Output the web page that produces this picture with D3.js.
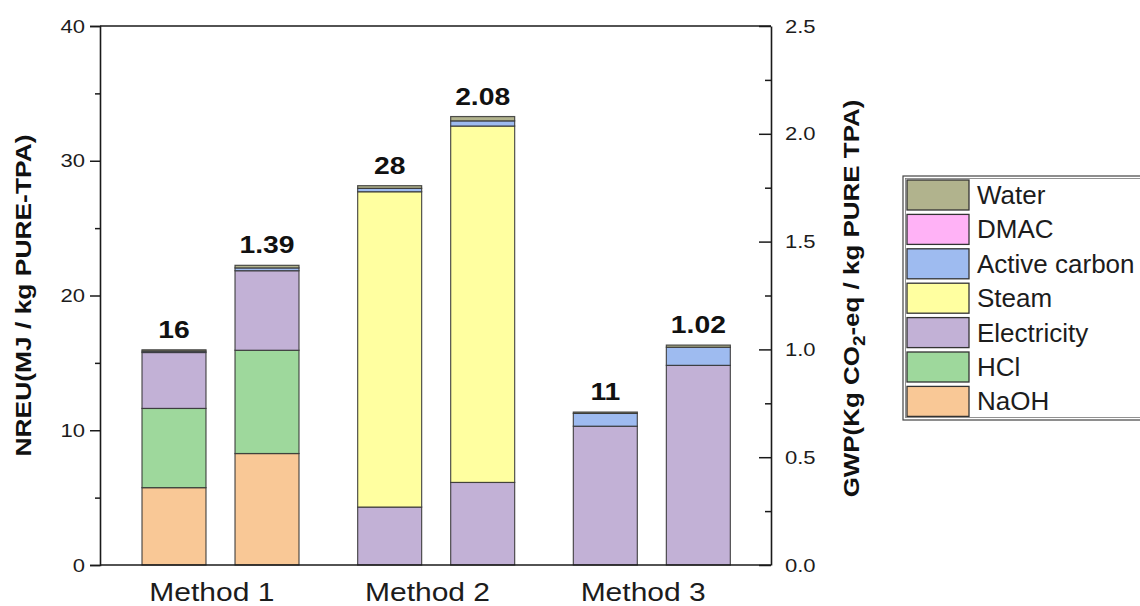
<!DOCTYPE html>
<html>
<head>
<meta charset="utf-8">
<script src="https://cdn.jsdelivr.net/npm/d3@7"></script>
<style>
  html, body { margin: 0; padding: 0; background: #fff; }
  svg { display: block; font-family: "Liberation Sans", Arial, sans-serif; }
</style>
</head>
<body>
<svg id="chart" width="1140" height="606"></svg>
<script>
// Process routes
const methods = ["Method 1", "Method 2", "Method 3"];

// Contribution components, stacked bottom to top
const components = ["NaOH", "HCl", "Electricity", "Steam", "Active carbon", "DMAC", "Water"];
const componentColors = ["#f9c896", "#9ed89c", "#c2b1d6", "#ffffa0", "#9ebbf0", "#ffb2f6", "#b1b38d"];

// Non-renewable energy use (MJ / kg pure TPA) per component, by method
const nreuNaOH        = [5.74, 0,    0];
const nreuHCl         = [5.88, 0,    0];
const nreuElectricity = [4.15, 4.3,  10.3];
const nreuSteam       = [0,    23.4, 0];
const nreuActiveCarbon= [0.1,  0.25, 0.95];
const nreuDMAC        = [0,    0,    0];
const nreuWater       = [0.1,  0.2,  0.1];

// Global warming potential (kg CO2-eq / kg pure TPA) per component, by method
const gwpNaOH         = [0.517, 0,     0];
const gwpHCl          = [0.479, 0,     0];
const gwpElectricity  = [0.369, 0.383, 0.926];
const gwpSteam        = [0,     1.653, 0];
const gwpActiveCarbon = [0.013, 0.024, 0.084];
const gwpDMAC         = [0,     0,     0];
const gwpWater        = [0.012, 0.02,  0.01];

// Axis ticks
const nreuTicks = [0, 10, 20, 30, 40];
const nreuMinorTicks = [5, 15, 25, 35];
const gwpTicks = [0, 0.5, 1.0, 1.5, 2.0, 2.5];
const gwpMinorTicks = [0.25, 0.75, 1.25, 1.75, 2.25];

const nreuSeries = [nreuNaOH, nreuHCl, nreuElectricity, nreuSteam, nreuActiveCarbon, nreuDMAC, nreuWater];
const gwpSeries  = [gwpNaOH, gwpHCl, gwpElectricity, gwpSteam, gwpActiveCarbon, gwpDMAC, gwpWater];

const svg = d3.select("#chart");
const plotLeft = 100, plotRight = 771, plotTop = 26, plotBottom = 565;
const axisColor = "#1a1a1a";
const textColor = "#1c1c1c";

const x = d3.scaleBand().domain(methods).range([plotLeft + 12, plotRight - 12]).paddingInner(0).paddingOuter(0);
const sub = d3.scaleBand().domain(["nreu", "gwp"]).range([30, 187]).paddingInner(0.312);
const yL = d3.scaleLinear().domain([0, 40]).range([plotBottom, plotTop]);
const yR = d3.scaleLinear().domain([0, 2.5]).range([plotBottom, plotTop]);
const color = d3.scaleOrdinal().domain(components).range(componentColors);

// Place a text at (px, py), widened along its baseline by sx, optionally rotated
function placeText(sel, px, py, sx, rot = 0) {
  sel.attr("x", 0).attr("y", 0)
    .attr("transform", (d, i, n) => {
      const X = typeof px === "function" ? px(d, i, n) : px;
      const Y = typeof py === "function" ? py(d, i, n) : py;
      return `translate(${X},${Y}) rotate(${rot}) scale(${sx},1)`;
    });
  return sel;
}

// Build stacked rows for each metric
function rows(series) {
  return methods.map((m, i) => {
    const r = { method: m };
    components.forEach((c, k) => r[c] = series[k][i]);
    return r;
  });
}
const stack = d3.stack().keys(components);
const nreuStack = stack(rows(nreuSeries));
const gwpStack = stack(rows(gwpSeries));

function drawBars(stacked, key, y) {
  const g = svg.append("g");
  stacked.forEach(layer => {
    g.selectAll(null)
      .data(layer.filter(d => d[1] - d[0] > 0))
      .join("rect")
      .attr("x", d => x(d.data.method) + sub(key))
      .attr("width", sub.bandwidth())
      .attr("y", d => y(d[1]))
      .attr("height", d => y(d[0]) - y(d[1]))
      .attr("fill", color(layer.key))
      .attr("stroke", "#333")
      .attr("stroke-opacity", 0.85)
      .attr("stroke-width", 1.2);
  });
  return g;
}
drawBars(nreuStack, "nreu", yL);
drawBars(gwpStack, "gwp", yR);

// Total labels above the bars
const nreuTotals = methods.map((m, i) => d3.sum(nreuSeries, s => s[i]));
const gwpTotals = methods.map((m, i) => d3.sum(gwpSeries, s => s[i]));
function totalLabels(totals, key, y, fmt) {
  svg.append("g").selectAll("text")
    .data(totals)
    .join("text")
    .call(placeText,
      (d, i) => x(methods[i]) + sub(key) + sub.bandwidth() / 2,
      d => y(d) - 12, 1.18)
    .attr("text-anchor", "middle")
    .attr("font-weight", "bold")
    .attr("font-size", 24)
    .attr("fill", "#111")
    .text(d => fmt(d));
}
totalLabels(nreuTotals, "nreu", yL, d3.format(".0f"));
totalLabels(gwpTotals, "gwp", yR, d3.format(".2f"));

// Frame: top and bottom lines
svg.append("line").attr("x1", plotLeft).attr("x2", plotRight).attr("y1", plotTop).attr("y2", plotTop)
  .attr("stroke", axisColor).attr("stroke-width", 1.6);
svg.append("line").attr("x1", plotLeft).attr("x2", plotRight).attr("y1", plotBottom).attr("y2", plotBottom)
  .attr("stroke", axisColor).attr("stroke-width", 1.6);

// Left axis (ticks outward)
const axL = svg.append("g").attr("transform", `translate(${plotLeft},0)`)
  .call(d3.axisLeft(yL).tickValues(nreuTicks).tickSize(10).tickPadding(5).tickFormat(d3.format("d")));
svg.append("g").attr("transform", `translate(${plotLeft},0)`)
  .call(d3.axisLeft(yL).tickValues(nreuMinorTicks).tickSize(5).tickFormat(""))
  .select(".domain").remove();

// Right axis (ticks inward)
const axR = svg.append("g").attr("transform", `translate(${plotRight},0)`)
  .call(d3.axisRight(yR).tickValues(gwpTicks).tickSize(0).tickPadding(14).tickFormat(d3.format(".1f")));
axR.selectAll(".tick").append("line").attr("x1", -12).attr("x2", 0);
svg.append("g").attr("transform", `translate(${plotRight},0)`)
  .call(d3.axisRight(yR).tickValues(gwpMinorTicks).tickSize(0).tickFormat(""))
  .call(g => g.select(".domain").remove())
  .selectAll(".tick").append("line").attr("x1", -6).attr("x2", 0);

svg.selectAll(".domain").attr("stroke", axisColor).attr("stroke-width", 1.6);
svg.selectAll(".tick line").attr("stroke", axisColor).attr("stroke-width", 1.5);
[axL, axR].forEach(ax => {
  ax.selectAll(".tick text").each(function () {
    const t = d3.select(this);
    const tx = +t.attr("x");
    t.attr("x", 0).attr("transform", `translate(${tx},0) scale(1.16,1)`);
  })
  .attr("font-size", 19).attr("fill", textColor)
  .attr("font-family", "'Liberation Sans', Arial, sans-serif");
});

// Category axis labels
svg.append("g").selectAll("text")
  .data(methods)
  .join("text")
  .call(placeText, d => x(d) + x.bandwidth() / 2 - 8, 601, 1.2)
  .attr("text-anchor", "middle")
  .attr("font-size", 25)
  .attr("fill", textColor)
  .text(d => d);

// Axis titles
svg.append("text")
  .call(placeText, 31, (plotTop + plotBottom) / 2, 1.2, -90)
  .attr("text-anchor", "middle")
  .attr("font-weight", "bold")
  .attr("font-size", 22)
  .attr("fill", "#111")
  .text("NREU(MJ / kg PURE-TPA)");

const rt = svg.append("text")
  .call(placeText, 859, (plotTop + plotBottom) / 2 + 3, 1.18, -90)
  .attr("text-anchor", "middle")
  .attr("font-weight", "bold")
  .attr("font-size", 22)
  .attr("fill", "#111");
rt.append("tspan").text("GWP(Kg CO");
rt.append("tspan").attr("font-size", 16).attr("dy", 6).text("2");
rt.append("tspan").attr("dy", -6).text("-eq / kg PURE TPA)");

// Legend, top entry first
const legend = svg.append("g").attr("transform", "translate(903,176)");
legend.append("rect").attr("x", 0).attr("y", 0).attr("width", 245).attr("height", 244)
  .attr("fill", "#fff").attr("stroke", "#444").attr("stroke-width", 1.2);
legend.append("rect").attr("x", 2.5).attr("y", 2.5).attr("width", 245).attr("height", 239)
  .attr("fill", "none").attr("stroke", "#777").attr("stroke-width", 0.8);
const legendItems = components.slice().reverse();
const li = legend.selectAll("g.item")
  .data(legendItems)
  .join("g")
  .attr("class", "item")
  .attr("transform", (d, i) => `translate(4,${4 + i * 34.4})`);
li.append("rect").attr("width", 62).attr("height", 30)
  .attr("fill", d => color(d)).attr("stroke", "#333").attr("stroke-width", 1.3);
li.append("text")
  .call(placeText, 70, 24, 1.0)
  .attr("font-size", 26).attr("fill", textColor)
  .text(d => d);
</script>
</body>
</html>
